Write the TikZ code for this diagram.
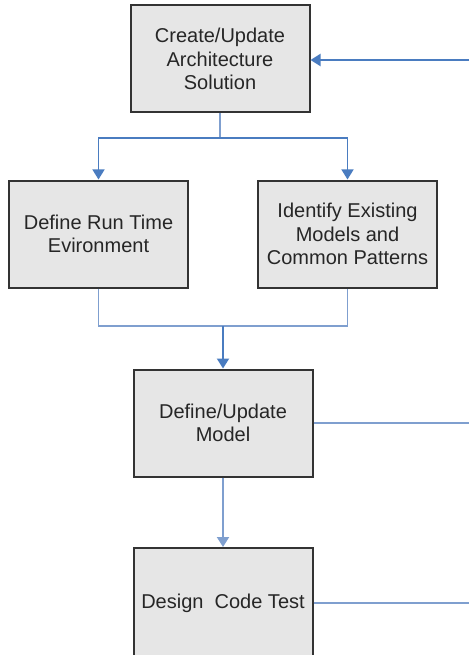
\documentclass[tikz,border=0pt]{standalone}
\usepackage{fontspec}
\setmainfont{Liberation Sans}
\usetikzlibrary{arrows.meta}
\definecolor{boxfill}{HTML}{E6E6E6}
\definecolor{boxline}{HTML}{333333}
\definecolor{flow}{HTML}{4A7CC0}
\definecolor{flowlight}{HTML}{7F9FCF}
\begin{document}
\begin{tikzpicture}[x=1pt,y=-1pt,
  stepbox/.style={draw=boxline,line width=2pt,fill=boxfill,minimum width=179pt,minimum height=107pt,inner sep=0pt,align=center,font=\fontsize{20}{23.5}\selectfont,text=black!85},
  thick flow/.style={draw=flow,line width=2pt},
  thin flow/.style={draw=flowlight,line width=1.3pt},
  tip/.style={-{Triangle[width=12pt,length=10pt]}}]
\useasboundingbox (0,0) rectangle (469,655);
\node[stepbox] (a) at (220,59) {Create/Update\\Architecture\\Solution};
\node[stepbox] (b) at (98.5,234) {Define Run Time\\Evironment};
\node[stepbox] (c) at (347.5,234) {Identify Existing\\Models and\\Common Patterns};
\node[stepbox] (d) at (223,423) {Define/Update\\Model};
\node[stepbox, minimum height=110pt] (e) at (223,603) {Design\ \ Code Test};
\coordinate (split) at (220,138);
\coordinate (join) at (223,326);
\coordinate (inA) at (469,60);
\coordinate (outD) at (469,423);
\coordinate (outE) at (469,603);
% top split
\draw[thin flow] (a.south) -- (split);
\draw[thin flow,tip,draw=flow] (split) -| (b.north);
\draw[thin flow,tip,draw=flow] (split) -| (c.north);
% join
\draw[thin flow] (b.south) |- (join) -| (c.south);
\draw[thick flow,tip] (join) -- (d.north);
\draw[thick flow,tip,draw=flowlight,line width=2pt] (d.south) -- (e.north);
\draw[thin flow] (d.east |- outD) -- (outD);
\draw[thin flow] (e.east |- outE) -- (outE);
\draw[thick flow,tip] (inA) -- (a.east |- inA);
\end{tikzpicture}
\end{document}
